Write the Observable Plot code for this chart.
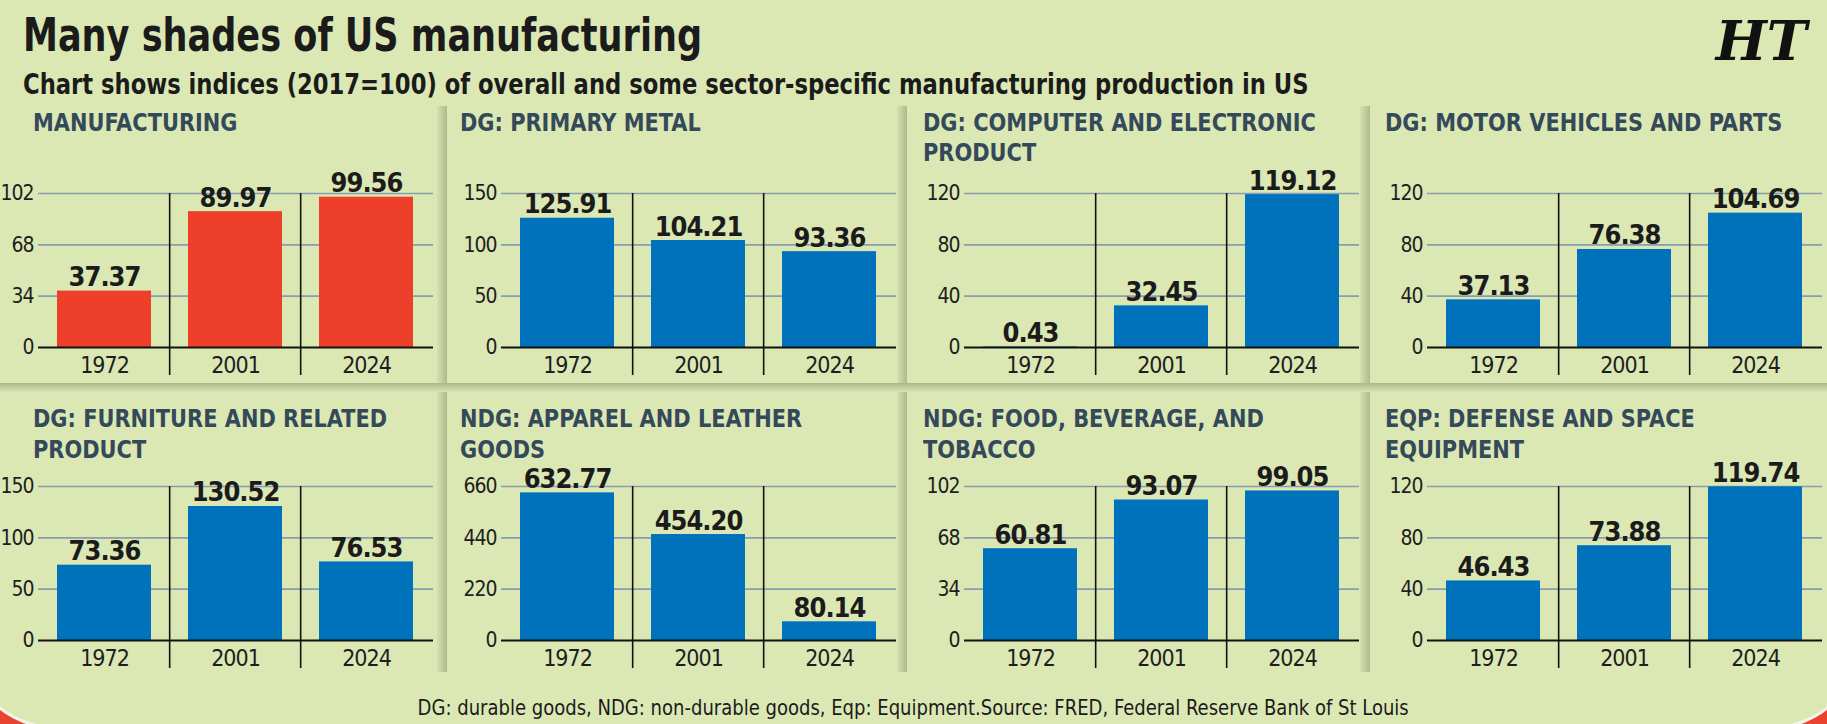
<!DOCTYPE html>
<html>
<head>
<meta charset="utf-8">
<script src="https://cdn.jsdelivr.net/npm/d3@7"></script>
<script src="https://cdn.jsdelivr.net/npm/@observablehq/plot@0.6"></script>
<style>
  html, body { margin: 0; padding: 0; background: #e8432e; width: 1827px; height: 724px; overflow: hidden; }
  #wrap { position: relative; width: 1827px; height: 724px; overflow: hidden; font-family: "Liberation Sans Narrow", "DejaVu Sans Condensed", "Roboto Condensed", "Open Sans", sans-serif; }
  #card { position: absolute; left: -40px; top: 0; width: 1907px; height: 730px; background: #dbe8b4; border-bottom-left-radius: 100px; border-bottom-right-radius: 100px; border: 3px solid #f4f4ee; border-top: none; box-sizing: border-box; }
  .vshadow { position: absolute; width: 10px; background: linear-gradient(to right, rgba(70,80,40,0.04), rgba(70,80,40,0.30)); }
  .hshadow { position: absolute; height: 9px; left: 0; width: 1827px; background: linear-gradient(to bottom, rgba(70,80,40,0.32), rgba(70,80,40,0.02)); }
  .title { position: absolute; left: 23px; top: 11px; font-size: 47px; line-height: 47px; font-weight: 700; color: #1b1b1b; white-space: nowrap; transform: scaleX(0.83); transform-origin: 0 0; }
  .subtitle { position: absolute; left: 23px; top: 71px; font-size: 28px; line-height: 28px; font-weight: 700; color: #1b1b1b; white-space: nowrap; transform: scaleX(0.9); transform-origin: 0 0; }
  .logo { position: absolute; right: 20px; top: 14px; font-family: "DejaVu Serif", "Liberation Serif", serif; font-size: 54px; line-height: 54px; font-weight: 700; font-style: italic; color: #111; }
  .ptitle { position: absolute; font-size: 25px; line-height: 31px; font-weight: 700; color: #34495a; white-space: pre-line; transform: scaleX(0.93); transform-origin: 0 0; }
  .footer { position: absolute; left: 0; width: 1827px; top: 697px; text-align: center; font-size: 22px; line-height: 22px; color: #1b1b1b; white-space: nowrap; transform: scaleX(0.91); transform-origin: 910px 0; }
  .panel { position: absolute; width: 463px; }
  .panel svg { max-width: none !important; display: block; }
</style>
</head>
<body>
<div id="wrap">
  <div id="card"></div>
</div>
<script>
// ---- data ----
const years = ["1972", "2001", "2024"];
const panelTitles = [
  "MANUFACTURING",
  "DG: PRIMARY METAL",
  "DG: COMPUTER AND ELECTRONIC\nPRODUCT",
  "DG: MOTOR VEHICLES AND PARTS",
  "DG: FURNITURE AND RELATED\nPRODUCT",
  "NDG: APPAREL AND LEATHER\nGOODS",
  "NDG: FOOD, BEVERAGE, AND\nTOBACCO",
  "EQP: DEFENSE AND SPACE\nEQUIPMENT"
];
const manufacturing = [37.37, 89.97, 99.56];
const primaryMetal = [125.91, 104.21, 93.36];
const computerElectronic = [0.43, 32.45, 119.12];
const motorVehicles = [37.13, 76.38, 104.69];
const furniture = [73.36, 130.52, 76.53];
const apparelLeather = [632.77, 454.20, 80.14];
const foodBeverage = [60.81, 93.07, 99.05];
const defenseSpace = [46.43, 73.88, 119.74];
const yTicks = [
  [0, 34, 68, 102],
  [0, 50, 100, 150],
  [0, 40, 80, 120],
  [0, 40, 80, 120],
  [0, 50, 100, 150],
  [0, 220, 440, 660],
  [0, 34, 68, 102],
  [0, 40, 80, 120]
];
const titleText = "Many shades of US manufacturing";
const subtitleText = "Chart shows indices (2017=100) of overall and some sector-specific manufacturing production in US";
const footerText = "DG: durable goods, NDG: non-durable goods, Eqp: Equipment.Source: FRED, Federal Reserve Bank of St Louis";

const series = [manufacturing, primaryMetal, computerElectronic, motorVehicles, furniture, apparelLeather, foodBeverage, defenseSpace];
const barColors = ["#ee3f2b", "#0072bb", "#0072bb", "#0072bb", "#0072bb", "#0072bb", "#0072bb", "#0072bb"];

// ---- layout ----
const FONT = '"Liberation Sans Narrow", "DejaVu Sans Condensed", "Roboto Condensed", "Open Sans", sans-serif';
const wrap = document.getElementById("wrap");
const colW = 463, W = 463, mL = 38, mR = 30, mT = 53, plotH = 154, mB = 40;
const rowTop = [140, 433];
const titleLeft = [33, 460, 923, 1385];
const titleTop = [108, 403];
const step = (W - mL - mR) / years.length;

function add(cls, text, style) {
  const d = document.createElement("div");
  d.className = cls;
  if (text != null) d.textContent = text;
  Object.assign(d.style, style || {});
  wrap.appendChild(d);
  return d;
}

// panel shadows
[437, 897, 1360].forEach(x => {
  add("vshadow", null, {left: x + "px", top: "106px", height: "277px"});
  add("vshadow", null, {left: x + "px", top: "392px", height: "280px"});
});
add("hshadow", null, {top: "383px"});

add("title", titleText);
add("subtitle", subtitleText);
add("logo", "HT");
add("footer", footerText);

const hasAxisMarks = typeof Plot.axisX === "function";

series.forEach((vals, i) => {
  const col = i % 4, row = Math.floor(i / 4);
  const ticks = yTicks[i];
  const maxY = ticks[ticks.length - 1];
  const data = years.map((y, k) => ({year: y, value: vals[k]}));
  add("ptitle", panelTitles[i], {left: titleLeft[col] + "px", top: titleTop[row] + "px", lineHeight: row === 0 ? "30px" : "31px"});

  const marks = [
    Plot.ruleY(ticks.filter(t => t > 0), {stroke: "#8a9cb0", strokeWidth: 1.6}),
    Plot.barY(data, {x: "year", y: "value", fill: barColors[i]}),
    Plot.ruleY([0], {stroke: "#111", strokeWidth: 2.2}),
    Plot.ruleX(years.slice(1), {x: d => d, y1: maxY, y2: 0, dx: -step / 2, insetBottom: -28, stroke: "#111", strokeWidth: 1.6}),
    Plot.text(data, {x: "year", y: "value", text: d => d.value.toFixed(2), dy: -5, lineAnchor: "bottom", fontWeight: 700, fontSize: 27, fill: "#1b1b1b"})
  ];
  if (hasAxisMarks) {
    marks.push(Plot.axisY(ticks, {tickSize: 0, tickPadding: 5, fontSize: 21, label: null}));
    marks.push(Plot.axisX({tickSize: 0, tickPadding: 9, fontSize: 23, label: null}));
  }

  const chart = Plot.plot({
    width: W,
    height: mT + plotH + mB,
    marginLeft: mL, marginRight: mR, marginTop: mT, marginBottom: mB,
    style: {background: "transparent", fontFamily: FONT, fontSize: "22px", color: "#1e1e1e", overflow: "visible", letterSpacing: "-1px"},
    x: {domain: years, paddingInner: 0.28, paddingOuter: 0.14, label: null, tickSize: 0, tickPadding: 9},
    y: {domain: [0, maxY], ticks: ticks, label: null, tickSize: 0, tickPadding: 5},
    marks
  });
  const holder = document.createElement("div");
  holder.className = "panel";
  holder.style.left = (colW * col) + "px";
  holder.style.top = rowTop[row] + "px";
  holder.appendChild(chart);
  wrap.appendChild(holder);
});
</script>
</body>
</html>
